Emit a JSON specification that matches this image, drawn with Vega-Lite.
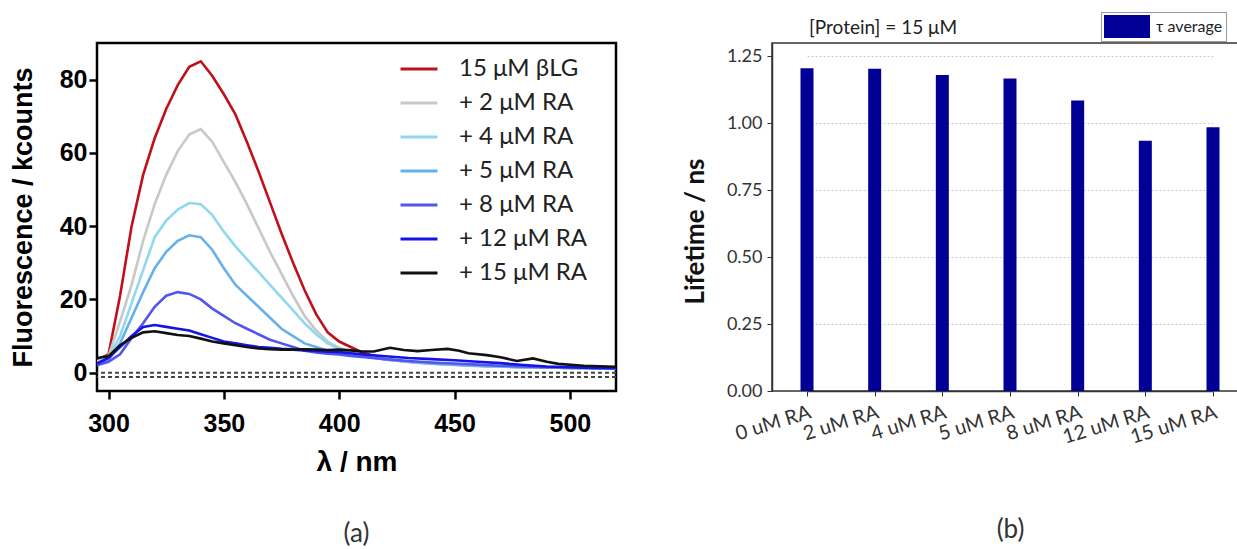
{
  "$schema": "https://vega.github.io/schema/vega-lite/v6.json",
  "background": "white",
  "padding": {"left": 7, "top": 10, "right": 0, "bottom": 0},
  "bounds": "flush",
  "spacing": 156,
  "config": {"view": {"stroke": null}},
  "resolve": {"scale": {"color": "independent", "x": "independent", "y": "independent"}, "legend": {"color": "independent"}},
  "datasets": {
    "spectra": [
      {"s":"15 μM βLG","x":295,"v":3.5},{"s":"15 μM βLG","x":300,"v":5},{"s":"15 μM βLG","x":305,"v":21},{"s":"15 μM βLG","x":310,"v":40},{"s":"15 μM βLG","x":315,"v":54},{"s":"15 μM βLG","x":320,"v":64},{"s":"15 μM βLG","x":325,"v":72},{"s":"15 μM βLG","x":330,"v":78.5},{"s":"15 μM βLG","x":335,"v":83.5},{"s":"15 μM βLG","x":340,"v":85},{"s":"15 μM βLG","x":345,"v":81},{"s":"15 μM βLG","x":350,"v":76},{"s":"15 μM βLG","x":355,"v":70.5},{"s":"15 μM βLG","x":360,"v":63},{"s":"15 μM βLG","x":365,"v":55},{"s":"15 μM βLG","x":370,"v":46.5},{"s":"15 μM βLG","x":375,"v":38},{"s":"15 μM βLG","x":380,"v":30},{"s":"15 μM βLG","x":385,"v":22.5},{"s":"15 μM βLG","x":390,"v":16},{"s":"15 μM βLG","x":395,"v":11},{"s":"15 μM βLG","x":400,"v":8.5},{"s":"15 μM βLG","x":405,"v":7},{"s":"15 μM βLG","x":410,"v":5.5},{"s":"15 μM βLG","x":420,"v":3.7},{"s":"15 μM βLG","x":430,"v":3.0},{"s":"15 μM βLG","x":440,"v":2.5},{"s":"15 μM βLG","x":450,"v":2.2},{"s":"15 μM βLG","x":460,"v":1.9},{"s":"15 μM βLG","x":470,"v":1.7},{"s":"15 μM βLG","x":480,"v":1.5},{"s":"15 μM βLG","x":490,"v":1.4},{"s":"15 μM βLG","x":500,"v":1.3},{"s":"15 μM βLG","x":510,"v":1.2},{"s":"15 μM βLG","x":520,"v":1.1},
      {"s":"+ 2 μM RA","x":295,"v":3},{"s":"+ 2 μM RA","x":300,"v":4.5},{"s":"+ 2 μM RA","x":305,"v":14},{"s":"+ 2 μM RA","x":310,"v":24},{"s":"+ 2 μM RA","x":315,"v":36},{"s":"+ 2 μM RA","x":320,"v":46},{"s":"+ 2 μM RA","x":325,"v":54},{"s":"+ 2 μM RA","x":330,"v":60.5},{"s":"+ 2 μM RA","x":335,"v":65},{"s":"+ 2 μM RA","x":340,"v":66.5},{"s":"+ 2 μM RA","x":345,"v":63},{"s":"+ 2 μM RA","x":350,"v":57.5},{"s":"+ 2 μM RA","x":355,"v":52},{"s":"+ 2 μM RA","x":360,"v":46},{"s":"+ 2 μM RA","x":365,"v":39.5},{"s":"+ 2 μM RA","x":370,"v":33},{"s":"+ 2 μM RA","x":375,"v":27},{"s":"+ 2 μM RA","x":380,"v":21},{"s":"+ 2 μM RA","x":385,"v":15.5},{"s":"+ 2 μM RA","x":390,"v":11.5},{"s":"+ 2 μM RA","x":395,"v":8.5},{"s":"+ 2 μM RA","x":400,"v":6.8},{"s":"+ 2 μM RA","x":405,"v":5.5},{"s":"+ 2 μM RA","x":410,"v":4.6},{"s":"+ 2 μM RA","x":420,"v":3.6},{"s":"+ 2 μM RA","x":430,"v":2.9},{"s":"+ 2 μM RA","x":440,"v":2.4},{"s":"+ 2 μM RA","x":450,"v":2.1},{"s":"+ 2 μM RA","x":460,"v":1.8},{"s":"+ 2 μM RA","x":470,"v":1.6},{"s":"+ 2 μM RA","x":480,"v":1.5},{"s":"+ 2 μM RA","x":490,"v":1.4},{"s":"+ 2 μM RA","x":500,"v":1.3},{"s":"+ 2 μM RA","x":510,"v":1.2},{"s":"+ 2 μM RA","x":520,"v":1.1},
      {"s":"+ 4 μM RA","x":295,"v":2.5},{"s":"+ 4 μM RA","x":300,"v":4},{"s":"+ 4 μM RA","x":305,"v":10},{"s":"+ 4 μM RA","x":310,"v":19},{"s":"+ 4 μM RA","x":315,"v":28},{"s":"+ 4 μM RA","x":320,"v":37},{"s":"+ 4 μM RA","x":325,"v":41.5},{"s":"+ 4 μM RA","x":330,"v":44.5},{"s":"+ 4 μM RA","x":335,"v":46.3},{"s":"+ 4 μM RA","x":340,"v":46},{"s":"+ 4 μM RA","x":345,"v":43},{"s":"+ 4 μM RA","x":350,"v":38.5},{"s":"+ 4 μM RA","x":355,"v":34.5},{"s":"+ 4 μM RA","x":360,"v":31},{"s":"+ 4 μM RA","x":365,"v":27.5},{"s":"+ 4 μM RA","x":370,"v":24},{"s":"+ 4 μM RA","x":375,"v":20.5},{"s":"+ 4 μM RA","x":380,"v":17},{"s":"+ 4 μM RA","x":385,"v":13.5},{"s":"+ 4 μM RA","x":390,"v":10.5},{"s":"+ 4 μM RA","x":395,"v":8},{"s":"+ 4 μM RA","x":400,"v":6.5},{"s":"+ 4 μM RA","x":405,"v":5.5},{"s":"+ 4 μM RA","x":410,"v":4.6},{"s":"+ 4 μM RA","x":420,"v":3.7},{"s":"+ 4 μM RA","x":430,"v":3.0},{"s":"+ 4 μM RA","x":440,"v":2.5},{"s":"+ 4 μM RA","x":450,"v":2.2},{"s":"+ 4 μM RA","x":460,"v":1.9},{"s":"+ 4 μM RA","x":470,"v":1.7},{"s":"+ 4 μM RA","x":480,"v":1.5},{"s":"+ 4 μM RA","x":490,"v":1.4},{"s":"+ 4 μM RA","x":500,"v":1.3},{"s":"+ 4 μM RA","x":510,"v":1.2},{"s":"+ 4 μM RA","x":520,"v":1.1},
      {"s":"+ 5 μM RA","x":295,"v":2.5},{"s":"+ 5 μM RA","x":300,"v":3.5},{"s":"+ 5 μM RA","x":305,"v":8},{"s":"+ 5 μM RA","x":310,"v":15},{"s":"+ 5 μM RA","x":315,"v":22},{"s":"+ 5 μM RA","x":320,"v":28.5},{"s":"+ 5 μM RA","x":325,"v":33},{"s":"+ 5 μM RA","x":330,"v":36},{"s":"+ 5 μM RA","x":335,"v":37.5},{"s":"+ 5 μM RA","x":340,"v":37},{"s":"+ 5 μM RA","x":345,"v":33.5},{"s":"+ 5 μM RA","x":350,"v":28.5},{"s":"+ 5 μM RA","x":355,"v":24},{"s":"+ 5 μM RA","x":360,"v":21},{"s":"+ 5 μM RA","x":365,"v":18},{"s":"+ 5 μM RA","x":370,"v":15},{"s":"+ 5 μM RA","x":375,"v":12},{"s":"+ 5 μM RA","x":380,"v":10},{"s":"+ 5 μM RA","x":385,"v":8},{"s":"+ 5 μM RA","x":390,"v":7},{"s":"+ 5 μM RA","x":395,"v":6},{"s":"+ 5 μM RA","x":400,"v":5.5},{"s":"+ 5 μM RA","x":405,"v":5},{"s":"+ 5 μM RA","x":410,"v":4.5},{"s":"+ 5 μM RA","x":420,"v":3.6},{"s":"+ 5 μM RA","x":430,"v":3.0},{"s":"+ 5 μM RA","x":440,"v":2.5},{"s":"+ 5 μM RA","x":450,"v":2.2},{"s":"+ 5 μM RA","x":460,"v":1.9},{"s":"+ 5 μM RA","x":470,"v":1.7},{"s":"+ 5 μM RA","x":480,"v":1.5},{"s":"+ 5 μM RA","x":490,"v":1.4},{"s":"+ 5 μM RA","x":500,"v":1.3},{"s":"+ 5 μM RA","x":510,"v":1.2},{"s":"+ 5 μM RA","x":520,"v":1.1},
      {"s":"+ 8 μM RA","x":295,"v":2},{"s":"+ 8 μM RA","x":300,"v":3},{"s":"+ 8 μM RA","x":305,"v":5},{"s":"+ 8 μM RA","x":310,"v":9.5},{"s":"+ 8 μM RA","x":315,"v":13.5},{"s":"+ 8 μM RA","x":320,"v":18},{"s":"+ 8 μM RA","x":325,"v":21},{"s":"+ 8 μM RA","x":330,"v":22},{"s":"+ 8 μM RA","x":335,"v":21.5},{"s":"+ 8 μM RA","x":340,"v":20},{"s":"+ 8 μM RA","x":345,"v":17.5},{"s":"+ 8 μM RA","x":350,"v":15.5},{"s":"+ 8 μM RA","x":355,"v":13.5},{"s":"+ 8 μM RA","x":360,"v":12},{"s":"+ 8 μM RA","x":365,"v":10.5},{"s":"+ 8 μM RA","x":370,"v":9},{"s":"+ 8 μM RA","x":375,"v":8},{"s":"+ 8 μM RA","x":380,"v":7},{"s":"+ 8 μM RA","x":385,"v":6},{"s":"+ 8 μM RA","x":390,"v":5.5},{"s":"+ 8 μM RA","x":395,"v":5.2},{"s":"+ 8 μM RA","x":400,"v":5},{"s":"+ 8 μM RA","x":405,"v":4.6},{"s":"+ 8 μM RA","x":410,"v":4.3},{"s":"+ 8 μM RA","x":420,"v":3.7},{"s":"+ 8 μM RA","x":430,"v":3.2},{"s":"+ 8 μM RA","x":440,"v":2.8},{"s":"+ 8 μM RA","x":450,"v":2.5},{"s":"+ 8 μM RA","x":460,"v":2.2},{"s":"+ 8 μM RA","x":470,"v":1.9},{"s":"+ 8 μM RA","x":480,"v":1.7},{"s":"+ 8 μM RA","x":490,"v":1.5},{"s":"+ 8 μM RA","x":500,"v":1.4},{"s":"+ 8 μM RA","x":510,"v":1.3},{"s":"+ 8 μM RA","x":520,"v":1.2},
      {"s":"+ 12 μM RA","x":295,"v":2.5},{"s":"+ 12 μM RA","x":300,"v":4},{"s":"+ 12 μM RA","x":305,"v":7},{"s":"+ 12 μM RA","x":310,"v":10},{"s":"+ 12 μM RA","x":315,"v":12.5},{"s":"+ 12 μM RA","x":320,"v":13},{"s":"+ 12 μM RA","x":325,"v":12.5},{"s":"+ 12 μM RA","x":330,"v":12},{"s":"+ 12 μM RA","x":335,"v":11.5},{"s":"+ 12 μM RA","x":340,"v":10.5},{"s":"+ 12 μM RA","x":345,"v":9.5},{"s":"+ 12 μM RA","x":350,"v":8.5},{"s":"+ 12 μM RA","x":355,"v":8},{"s":"+ 12 μM RA","x":360,"v":7.5},{"s":"+ 12 μM RA","x":365,"v":7},{"s":"+ 12 μM RA","x":370,"v":6.8},{"s":"+ 12 μM RA","x":375,"v":6.5},{"s":"+ 12 μM RA","x":380,"v":6.3},{"s":"+ 12 μM RA","x":385,"v":6.1},{"s":"+ 12 μM RA","x":390,"v":5.9},{"s":"+ 12 μM RA","x":395,"v":5.7},{"s":"+ 12 μM RA","x":400,"v":5.6},{"s":"+ 12 μM RA","x":405,"v":5.3},{"s":"+ 12 μM RA","x":410,"v":5},{"s":"+ 12 μM RA","x":420,"v":4.5},{"s":"+ 12 μM RA","x":430,"v":4.0},{"s":"+ 12 μM RA","x":440,"v":3.7},{"s":"+ 12 μM RA","x":450,"v":3.4},{"s":"+ 12 μM RA","x":460,"v":3.0},{"s":"+ 12 μM RA","x":470,"v":2.6},{"s":"+ 12 μM RA","x":480,"v":2.1},{"s":"+ 12 μM RA","x":490,"v":1.7},{"s":"+ 12 μM RA","x":500,"v":1.5},{"s":"+ 12 μM RA","x":510,"v":1.3},{"s":"+ 12 μM RA","x":520,"v":1.2},
      {"s":"+ 15 μM RA","x":295,"v":4},{"s":"+ 15 μM RA","x":300,"v":4.5},{"s":"+ 15 μM RA","x":305,"v":7.5},{"s":"+ 15 μM RA","x":310,"v":9.5},{"s":"+ 15 μM RA","x":315,"v":11},{"s":"+ 15 μM RA","x":320,"v":11.3},{"s":"+ 15 μM RA","x":325,"v":10.8},{"s":"+ 15 μM RA","x":330,"v":10.3},{"s":"+ 15 μM RA","x":335,"v":10},{"s":"+ 15 μM RA","x":340,"v":9.3},{"s":"+ 15 μM RA","x":345,"v":8.5},{"s":"+ 15 μM RA","x":350,"v":8},{"s":"+ 15 μM RA","x":355,"v":7.5},{"s":"+ 15 μM RA","x":360,"v":7},{"s":"+ 15 μM RA","x":365,"v":6.6},{"s":"+ 15 μM RA","x":370,"v":6.4},{"s":"+ 15 μM RA","x":375,"v":6.3},{"s":"+ 15 μM RA","x":380,"v":6.3},{"s":"+ 15 μM RA","x":385,"v":6.4},{"s":"+ 15 μM RA","x":390,"v":6.3},{"s":"+ 15 μM RA","x":395,"v":6.2},{"s":"+ 15 μM RA","x":400,"v":6.3},{"s":"+ 15 μM RA","x":405,"v":6.1},{"s":"+ 15 μM RA","x":410,"v":5.8},{"s":"+ 15 μM RA","x":415,"v":5.8},{"s":"+ 15 μM RA","x":422,"v":6.8},{"s":"+ 15 μM RA","x":428,"v":6.2},{"s":"+ 15 μM RA","x":434,"v":5.9},{"s":"+ 15 μM RA","x":440,"v":6.2},{"s":"+ 15 μM RA","x":447,"v":6.5},{"s":"+ 15 μM RA","x":452,"v":6.0},{"s":"+ 15 μM RA","x":456,"v":5.3},{"s":"+ 15 μM RA","x":464,"v":4.8},{"s":"+ 15 μM RA","x":470,"v":4.2},{"s":"+ 15 μM RA","x":477,"v":3.2},{"s":"+ 15 μM RA","x":484,"v":3.9},{"s":"+ 15 μM RA","x":490,"v":3.0},{"s":"+ 15 μM RA","x":495,"v":2.4},{"s":"+ 15 μM RA","x":506,"v":1.9},{"s":"+ 15 μM RA","x":520,"v":1.6}
    ],
    "life": [
      {"c":"0 uM RA","t":1.206,"k":"τ average"},
      {"c":"2 uM RA","t":1.204,"k":"τ average"},
      {"c":"4 uM RA","t":1.180,"k":"τ average"},
      {"c":"5 uM RA","t":1.167,"k":"τ average"},
      {"c":"8 uM RA","t":1.085,"k":"τ average"},
      {"c":"12 uM RA","t":0.935,"k":"τ average"},
      {"c":"15 uM RA","t":0.985,"k":"τ average"}
    ]
  },
  "hconcat": [
    {
      "width": 519,
      "height": 348,
      "view": {"stroke": "black", "strokeWidth": 2.5},
      "title": {"text": "(a)", "orient": "bottom", "font": "Lato", "fontSize": 26, "fontWeight": "normal", "color": "#333", "offset": 45},
      "encoding": {
        "y": {
          "field": "v", "type": "quantitative",
          "scale": {"domain": [-5, 90], "nice": false, "zero": false},
          "axis": {
            "values": [0, 20, 40, 60, 80], "grid": false, "domain": false,
            "tickSize": 8, "tickWidth": 2.5, "tickColor": "black",
            "labelFont": "Liberation Sans", "labelFontWeight": "bold", "labelFontSize": 25, "labelColor": "black", "labelPadding": 2,
            "title": "Fluorescence / kcounts", "titleFont": "Liberation Sans", "titleFontWeight": "bold", "titleFontSize": 27, "titleColor": "black", "titlePadding": 22
          }
        }
      },
      "layer": [
        {
          "data": {"values": [{"v": 0}, {"v": -1.2}]},
          "mark": {"type": "rule", "strokeDash": [4, 3], "color": "#444", "strokeWidth": 2}
        },
        {
          "data": {"name": "spectra"},
          "mark": {"type": "line", "strokeWidth": 2.6, "clip": true},
          "encoding": {
            "x": {
              "field": "x", "type": "quantitative",
              "scale": {"domain": [295, 520], "nice": false, "zero": false},
              "axis": {
                "values": [300, 350, 400, 450, 500], "grid": false, "domain": false,
                "tickSize": 8, "tickWidth": 2.5, "tickColor": "black",
                "labelFont": "Liberation Sans", "labelFontWeight": "bold", "labelFontSize": 25, "labelColor": "black", "labelPadding": 12,
                "title": "λ / nm", "titleFont": "Liberation Sans", "titleFontWeight": "bold", "titleFontSize": 28, "titleColor": "black", "titlePadding": 12
              }
            },
            "color": {
              "field": "s", "type": "nominal",
              "scale": {
                "domain": ["15 μM βLG", "+ 2 μM RA", "+ 4 μM RA", "+ 5 μM RA", "+ 8 μM RA", "+ 12 μM RA", "+ 15 μM RA"],
                "range": ["#c0101c", "#c8c8c8", "#8fd8ee", "#67b1ea", "#5454ee", "#1414e6", "#111111"]
              },
              "legend": {
                "orient": "none", "legendX": 302, "legendY": 6, "title": null,
                "symbolType": "stroke", "symbolSize": 1369, "symbolStrokeWidth": 3,
                "labelFont": "Lato", "labelFontSize": 24, "labelColor": "#222", "labelOffset": 20,
                "rowPadding": 2, "padding": 0
              }
            }
          }
        }
      ]
    },
    {
      "width": 466,
      "height": 348,
      "data": {"name": "life"},
      "view": {"stroke": "#333", "strokeWidth": 1.5},
      "title": {"text": "[Protein] = 15 μM", "anchor": "start", "frame": "group", "dx": 37, "font": "Lato", "fontSize": 19, "fontWeight": "normal", "color": "#222", "offset": -26},
      "mark": {"type": "bar", "width": 13},
      "encoding": {
        "x": {
          "field": "c", "type": "nominal", "sort": null,
          "scale": {"type": "point", "range": [35, 441], "padding": 0},
          "axis": {
            "labelAngle": -17, "labelAlign": "right", "labelBaseline": "top",
            "labelFont": "Lato", "labelFontSize": 20, "labelColor": "#333", "labelPadding": 6,
            "tickSize": 5, "tickColor": "#333", "domainColor": "#333", "domainWidth": 1.5,
            "title": "(b)", "titleFont": "Lato", "titleFontSize": 26, "titleFontWeight": "normal", "titleColor": "#333", "titlePadding": 69
          }
        },
        "y": {
          "field": "t", "type": "quantitative",
          "scale": {"domain": [0, 1.3], "nice": false},
          "axis": {
            "values": [0, 0.25, 0.5, 0.75, 1.0, 1.25], "format": ".2f",
            "labelFont": "Lato", "labelFontSize": 18, "labelColor": "#333", "labelPadding": 5,
            "tickSize": 5, "tickColor": "#333", "domainColor": "#333", "domainWidth": 1.5,
            "grid": true, "gridDash": [2, 2], "gridColor": "#cccccc", "gridWidth": 1,
            "title": "Lifetime / ns", "titleFont": "Lato", "titleFontWeight": "bold", "titleFontSize": 26, "titleColor": "#111", "titlePadding": 18, "titleY": 188
          }
        },
        "color": {
          "field": "k", "type": "nominal",
          "scale": {"range": ["#000096"]},
          "legend": {
            "orient": "none", "legendX": 329, "legendY": -31, "title": null,
            "symbolType": "M-1,-1H3V1H-1Z", "symbolSize": 529, "symbolStrokeWidth": 0,
            "labelFont": "Lato", "labelFontSize": 16, "labelColor": "#222", "labelOffset": 29,
            "padding": 3, "strokeColor": "#999", "fillColor": "white"
          }
        }
      }
    }
  ]
}
